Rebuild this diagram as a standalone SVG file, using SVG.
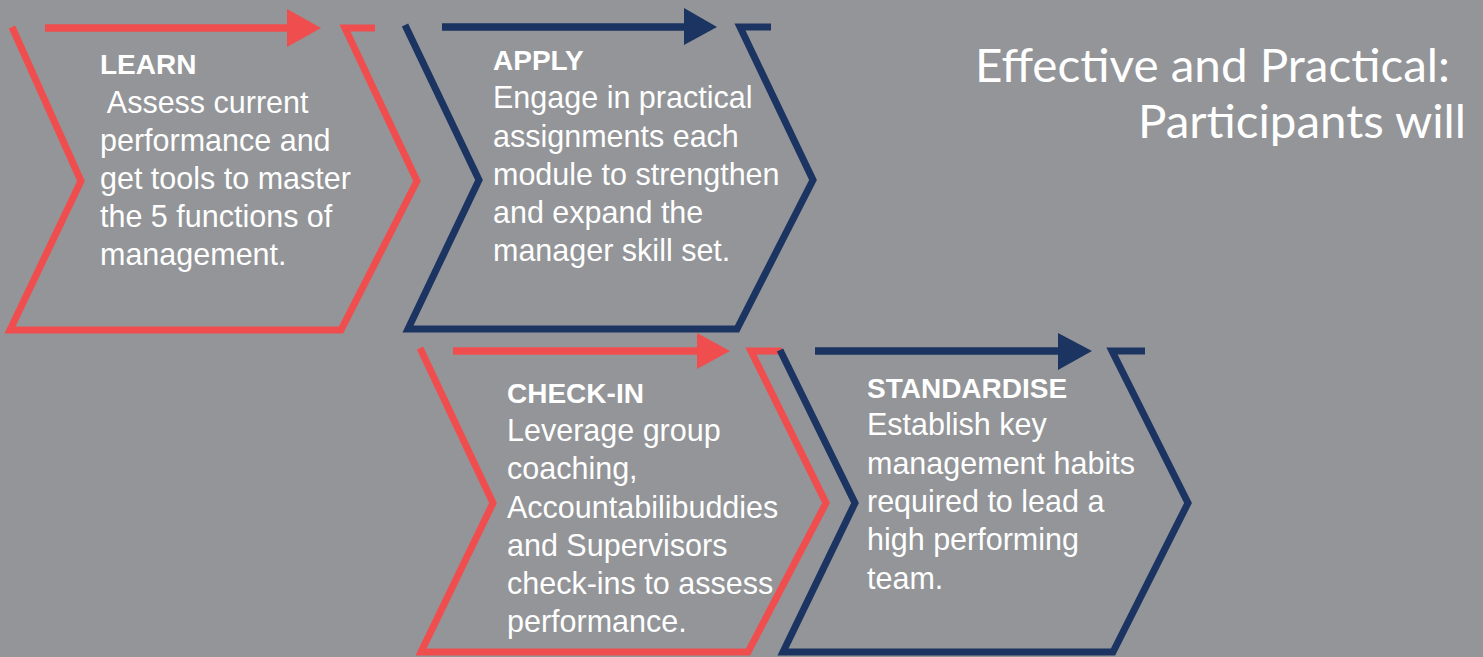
<svg xmlns="http://www.w3.org/2000/svg" width="1483" height="657" viewBox="0 0 1483 657">
  <style>
    .bg { fill: #939598; }
    .frame { fill: none; stroke-width: 7; stroke-linejoin: miter; stroke-miterlimit: 10; }
    .red { stroke: #F04E4E; }
    .navy { stroke: #1C3461; }
    .shaft { stroke-width: 7.5; }
    .head-red { fill: #F04E4E; }
    .head-navy { fill: #1C3461; }
    .title { font-family: "Liberation Sans", Arial, sans-serif; font-size: 28px; font-weight: bold; fill: #FFFFFF; }
    .body { font-family: "Liberation Sans", Arial, sans-serif; font-size: 30.5px; fill: #FFFFFF; }
    .heading { font-family: "Lato", "Liberation Sans", sans-serif; font-size: 46px; fill: #FFFFFF; }
  </style>

  <rect class="bg" x="0" y="0" width="1483" height="657"/>

  <!-- step arrows running along the top of each chevron -->
  <g id="connectors">
    <line class="red shaft" x1="45" y1="28" x2="292" y2="28"/>
    <polygon class="head-red" points="287,9 321,28 287,47"/>
    <line class="navy shaft" x1="442" y1="27" x2="688" y2="27"/>
    <polygon class="head-navy" points="684,8 717,27 684,45"/>
    <line class="red shaft" x1="453" y1="351" x2="700" y2="351"/>
    <polygon class="head-red" points="697,333 730,351 697,369"/>
    <line class="navy shaft" x1="815" y1="351" x2="1062" y2="351"/>
    <polygon class="head-navy" points="1058,333 1092,351 1058,370"/>
  </g>

  <g id="learn">
    <polyline class="frame red" points="12,27 81,181 10,330 341,330 417,181 345,28 375,28"/>
    <text class="title" x="100" y="74">LEARN</text>
    <text class="body" x="100" y="113" xml:space="preserve"> Assess current</text>
    <text class="body" x="100" y="151">performance and</text>
    <text class="body" x="100" y="189">get tools to master</text>
    <text class="body" x="100" y="227">the 5 functions of</text>
    <text class="body" x="100" y="265">management.</text>
  </g>

  <g id="apply">
    <polyline class="frame navy" points="405,25 479,180 408,329 737,329 813,180 740,27 771,27"/>
    <text class="title" x="493" y="70">APPLY</text>
    <text class="body" x="493" y="108">Engage in practical</text>
    <text class="body" x="493" y="146.5">assignments each</text>
    <text class="body" x="493" y="185">module to strengthen</text>
    <text class="body" x="493" y="223">and expand the</text>
    <text class="body" x="493" y="261">manager skill set.</text>
  </g>

  <g id="check-in">
    <polyline class="frame red" points="420,348 493,503 421,652 748,652 826,503 751,351 782,351"/>
    <text class="title" x="507" y="403">CHECK-IN</text>
    <text class="body" x="507" y="441">Leverage group</text>
    <text class="body" x="507" y="479">coaching,</text>
    <text class="body" x="507" y="517.5">Accountabilibuddies</text>
    <text class="body" x="507" y="556">and Supervisors</text>
    <text class="body" x="507" y="594">check-ins to assess</text>
    <text class="body" x="507" y="632">performance.</text>
  </g>

  <g id="standardise">
    <polyline class="frame navy" points="780,350 855,503 783,652 1113,652 1188,503 1112,351 1145,351"/>
    <text class="title" x="867" y="398">STANDARDISE</text>
    <text class="body" x="867" y="435">Establish key</text>
    <text class="body" x="867" y="473.5">management habits</text>
    <text class="body" x="867" y="512">required to lead a</text>
    <text class="body" x="867" y="550">high performing</text>
    <text class="body" x="867" y="589">team.</text>
  </g>

  <g id="headline">
    <text class="heading" x="975" y="82" textLength="475" lengthAdjust="spacingAndGlyphs">Effective and Practical:</text>
    <text class="heading" x="1138" y="138" textLength="328" lengthAdjust="spacingAndGlyphs">Participants will</text>
  </g>
</svg>
